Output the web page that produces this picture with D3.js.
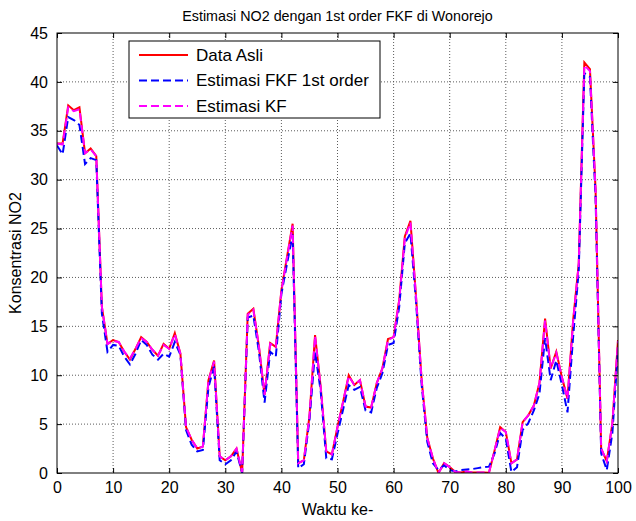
<!DOCTYPE html>
<html>
<head>
<meta charset="utf-8">
<script src="https://cdn.jsdelivr.net/npm/d3@7"></script>
<style>
  body { margin: 0; background: #fff; }
  text { font-family: "Liberation Sans", Arial, sans-serif; fill: #000; }
</style>
</head>
<body>
<div id="vis"></div>
<script>
// waktu ke- (0..100)
var waktu = d3.range(0, 101);

var data_asli = [33.7, 33.7, 37.6, 37.1, 37.4, 32.7, 33.2, 32.4, 17.0, 13.2,
  13.6, 13.4, 12.4, 11.6, 12.7, 13.9, 13.4, 12.6, 12.0, 13.2,
  12.7, 14.3, 12.2, 4.7, 3.4, 2.5, 2.7, 9.5, 11.5, 1.7,
  1.3, 1.7, 2.5, 0.0, 16.3, 16.8, 12.9, 8.0, 13.3, 12.9,
  18.7, 22.1, 25.5, 1.0, 1.3, 5.8, 14.1, 8.8, 2.2, 1.9,
  4.7, 7.3, 10.0, 9.0, 9.5, 6.8, 6.7, 9.2, 10.7, 13.7,
  13.9, 17.7, 24.2, 25.8, 18.0, 9.5, 3.6, 1.5, 0.0, 1.0,
  0.6, 0.1, 0.05, 0.15, 0.05, 0.05, 0.05, 0.03, 2.3, 4.7,
  4.2, 1.0, 1.4, 5.2, 5.9, 6.9, 9.2, 15.8, 10.7, 12.4,
  9.8, 7.6, 15.6, 21.4, 42.0, 41.3, 29.0, 2.5, 1.2, 5.1,
  13.6];

var est_fkf = [33.5, 32.6, 36.4, 36.1, 35.6, 31.6, 32.2, 32.0, 16.3, 12.4,
  13.1, 13.0, 11.9, 11.1, 12.2, 13.6, 13.1, 12.1, 11.6, 12.2,
  11.9, 13.4, 12.1, 4.4, 2.9, 2.2, 2.35, 8.8, 10.9, 1.3,
  0.9, 1.3, 2.2, 0.0, 15.9, 16.1, 12.4, 7.2, 12.4, 11.9,
  18.3, 21.4, 24.4, 0.5, 0.9, 5.4, 12.4, 8.4, 1.5, 1.4,
  4.0, 6.5, 9.0, 8.5, 8.8, 6.4, 6.2, 8.7, 10.2, 13.1,
  13.3, 17.0, 23.5, 24.5, 17.5, 9.0, 3.2, 1.0, 0.3, 0.8,
  0.3, 0.15, 0.3, 0.35, 0.4, 0.5, 0.6, 0.65, 2.0, 4.1,
  3.5, 0.1, 0.6, 4.4, 5.1, 6.4, 8.1, 13.8, 9.5, 11.5,
  9.0, 6.2, 13.9, 20.7, 40.9, 40.5, 28.2, 2.0, 0.3, 4.1,
  12.6];

var est_kf = [33.7, 33.6, 37.4, 37.0, 37.2, 32.7, 33.1, 32.4, 17.0, 13.2,
  13.5, 13.4, 12.4, 11.7, 12.7, 13.8, 13.4, 12.6, 12.0, 13.1,
  12.7, 14.2, 12.2, 4.7, 3.4, 2.5, 2.7, 9.4, 11.4, 1.7,
  1.3, 1.7, 2.5, 0.1, 16.2, 16.7, 12.9, 8.0, 13.2, 12.9,
  18.6, 22.0, 25.3, 1.0, 1.3, 5.8, 14.0, 8.8, 2.2, 1.9,
  4.7, 7.3, 9.9, 9.0, 9.5, 6.8, 6.7, 9.2, 10.7, 13.6,
  13.9, 17.6, 24.0, 25.6, 18.0, 9.5, 3.6, 1.5, 0.0, 1.0,
  0.6, 0.1, 0.05, 0.15, 0.05, 0.05, 0.05, 0.03, 2.3, 4.6,
  4.2, 1.0, 1.4, 5.2, 5.9, 6.9, 9.2, 15.6, 10.7, 12.3,
  9.8, 7.6, 15.5, 21.3, 41.7, 41.1, 29.0, 2.5, 1.2, 5.1,
  13.5];

var x_ticks = d3.range(0, 101, 10);
var y_ticks = d3.range(0, 46, 5);

var series = [
  {name: "Data Asli", values: data_asli, color: "#ff0000", dash: null},
  {name: "Estimasi FKF 1st order", values: est_fkf, color: "#0000ff", dash: "8,4"},
  {name: "Estimasi KF", values: est_kf, color: "#ff00ff", dash: "8,4"}
];

var elem_width = 636;
var elem_height = 521;
var margin = {top: 33, right: 18, bottom: 48, left: 57};
var plot_w = elem_width - margin.left - margin.right;
var plot_h = elem_height - margin.top - margin.bottom;

var svg = d3.select("#vis")
  .append("svg")
  .attr("width", elem_width)
  .attr("height", elem_height);

svg.append("rect")
  .attr("width", elem_width)
  .attr("height", elem_height)
  .attr("fill", "#fff");

var scales = {
  x: d3.scaleLinear().domain([0, 100]).range([0, plot_w]),
  y: d3.scaleLinear().domain([0, 45]).range([plot_h, 0])
};

var g = svg.append("g")
  .attr("transform", "translate(" + margin.left + "," + margin.top + ")");

svg.append("defs").append("clipPath")
  .attr("id", "clip")
  .append("rect")
  .attr("width", plot_w)
  .attr("height", plot_h);

// grid (dotted, matlab style)
g.selectAll(".gx")
  .data(x_ticks.slice(1, -1)).enter()
  .append("line")
  .attr("x1", function(d) { return scales.x(d); })
  .attr("x2", function(d) { return scales.x(d); })
  .attr("y1", 0)
  .attr("y2", plot_h)
  .attr("stroke", "#4a4a4a")
  .attr("stroke-width", 0.9)
  .attr("stroke-dasharray", "1,2");

g.selectAll(".gy")
  .data(y_ticks.slice(1, -1)).enter()
  .append("line")
  .attr("x1", 0)
  .attr("x2", plot_w)
  .attr("y1", function(d) { return scales.y(d); })
  .attr("y2", function(d) { return scales.y(d); })
  .attr("stroke", "#4a4a4a")
  .attr("stroke-width", 0.9)
  .attr("stroke-dasharray", "1,2");

var line = d3.line()
  .x(function(d, i) { return scales.x(waktu[i]); })
  .y(function(d) { return scales.y(d); });

g.append("g")
  .attr("clip-path", "url(#clip)")
  .selectAll(".series")
  .data(series).enter()
  .append("path")
  .attr("d", function(s) { return line(s.values); })
  .attr("fill", "none")
  .attr("stroke", function(s) { return s.color; })
  .attr("stroke-width", 2)
  .attr("stroke-dasharray", function(s) { return s.dash; });

// axes, ticks inward on all four sides
function style_axis(sel, labels) {
  sel.select(".domain").remove();
  sel.selectAll(".tick line").attr("stroke", "#000");
  sel.selectAll("text")
    .attr("font-size", labels ? 16 : 0)
    .attr("fill", "#000")
    .style("font-family", "'Liberation Sans', Arial, sans-serif");
}

g.append("g")
  .attr("transform", "translate(0," + plot_h + ")")
  .call(d3.axisBottom(scales.x).tickValues(x_ticks).tickSize(-5).tickPadding(9))
  .call(style_axis, true);

g.append("g")
  .call(d3.axisLeft(scales.y).tickValues(y_ticks).tickSize(-5).tickPadding(9))
  .call(style_axis, true);

g.append("g")
  .call(d3.axisTop(scales.x).tickValues(x_ticks).tickSize(-5).tickFormat(""))
  .call(style_axis, false);

g.append("g")
  .attr("transform", "translate(" + plot_w + ",0)")
  .call(d3.axisRight(scales.y).tickValues(y_ticks).tickSize(-5).tickFormat(""))
  .call(style_axis, false);

g.append("rect")
  .attr("width", plot_w)
  .attr("height", plot_h)
  .attr("fill", "none")
  .attr("stroke", "#000")
  .attr("stroke-width", 1);

// legend
var leg = g.append("g")
  .attr("transform", "translate(" + (129 - margin.left) + "," + (41 - margin.top) + ")");

leg.append("rect")
  .attr("width", 251)
  .attr("height", 77)
  .attr("fill", "#fff")
  .attr("stroke", "#000")
  .attr("stroke-width", 1);

var items = leg.selectAll(".item")
  .data(series).enter()
  .append("g")
  .attr("transform", function(d, i) { return "translate(0," + (14 + i * 25.5) + ")"; });

items.append("line")
  .attr("x1", 10)
  .attr("x2", 59)
  .attr("stroke", function(s) { return s.color; })
  .attr("stroke-width", 2)
  .attr("stroke-dasharray", function(s) { return s.dash; });

items.append("text")
  .attr("x", 67)
  .attr("dy", "0.35em")
  .attr("font-size", 17)
  .text(function(s) { return s.name; });

// labels
svg.append("text")
  .attr("x", margin.left + plot_w / 2)
  .attr("y", 21)
  .attr("text-anchor", "middle")
  .attr("font-size", 14.3)
  .text("Estimasi NO2 dengan 1st order FKF di Wonorejo");

svg.append("text")
  .attr("x", margin.left + plot_w / 2)
  .attr("y", 515)
  .attr("text-anchor", "middle")
  .attr("font-size", 16)
  .text("Waktu ke-");

svg.append("text")
  .attr("transform", "translate(21," + (margin.top + plot_h / 2) + ") rotate(-90)")
  .attr("text-anchor", "middle")
  .attr("font-size", 16)
  .text("Konsentrasi NO2");
</script>
</body>
</html>
